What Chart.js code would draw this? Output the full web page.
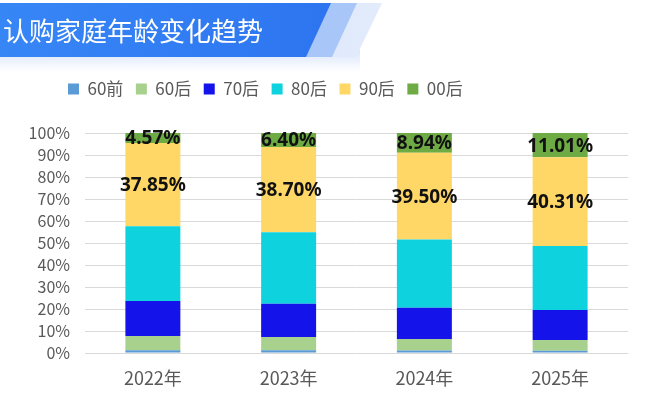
<!DOCTYPE html>
<html>
<head>
<meta charset="utf-8">
<script src="https://cdn.jsdelivr.net/npm/chart.js@4/dist/chart.umd.min.js"></script>
<style>
  html, body { margin: 0; padding: 0; background: #fff; }
  #wrap { position: relative; width: 664px; height: 396px; overflow: hidden; background: #fff; }
  #chart { position: absolute; left: 0; top: 0; }
  .glow { position: absolute; left: 0; top: 50px; width: 360px; height: 22px;
          background: linear-gradient(to bottom, rgba(120,165,240,0.28), rgba(120,165,240,0)); }
  .stripe2 { position: absolute; left: 0; top: 3px; width: 390px; height: 54px;
             background: linear-gradient(to right, #c9dbfa, #e3ecfc);
             clip-path: polygon(330px 0, 382px 0, 356px 54px, 305px 54px); }
  .stripe1 { position: absolute; left: 0; top: 3px; width: 390px; height: 54px;
             background: #a9c6f8;
             clip-path: polygon(330px 0, 357px 0, 332px 54px, 305px 54px); }
  .banner { position: absolute; left: 0; top: 3px; width: 332px; height: 54px;
            background: linear-gradient(to right, #3786f6, #2d75f0);
            clip-path: polygon(0 0, 331px 0, 306px 54px, 0 54px); }
  .title { position: absolute; left: 3px; top: 3px; height: 54px; line-height: 54px;
           color: #fff; font-family: "Noto Sans CJK SC", sans-serif; font-size: 26px;
           white-space: nowrap; }
</style>
</head>
<body>
<div id="wrap">
  <canvas id="chart" width="664" height="396"></canvas>
  <div class="glow"></div>
  <div class="stripe2"></div>
  <div class="stripe1"></div>
  <div class="banner"></div>
  <div class="title">认购家庭年龄变化趋势</div>
</div>
<script>
// ---- data ----
const categories = ['2022年', '2023年', '2024年', '2025年'];
const seriesNames = ['60前', '60后', '70后', '80后', '90后', '00后'];
const pre60  = [1.3, 1.3, 1.1, 1.0];
const post60 = [6.4, 6.0, 5.3, 4.9];
const post70 = [15.9, 15.1, 14.2, 13.6];
const post80 = [33.98, 32.5, 30.96, 29.18];
const post90 = [37.85, 38.70, 39.50, 40.31];
const post00 = [4.57, 6.40, 8.94, 11.01];
const yMax = 100;
const yStep = 10;

const colors = ['#5B9BD5', '#A9D18E', '#1414EA', '#0ED3DF', '#FFD766', '#6FAB45'];
const seriesValues = [pre60, post60, post70, post80, post90, post00];
const labelledSeries = [4, 5];

const tickFont = "'Noto Sans CJK SC', 'Noto Sans', sans-serif";

const legendTweak = {
  id: 'legendTweak',
  beforeInit(chart) {
    const lg = chart.legend;
    if (lg) {
      const fit = lg.fit;
      lg.fit = function () { fit.call(this); this.height = 65; };
    }
  },
  afterLayout(chart) {
    const lg = chart.legend;
    if (lg) { lg.left += 25.5; lg.right += 25.5; }
  }
};

const valueLabels = {
  id: 'valueLabels',
  afterDatasetsDraw(chart) {
    const ctx = chart.ctx;
    ctx.save();
    ctx.font = "bold 19px 'Noto Sans', 'Noto Sans CJK SC', sans-serif";
    ctx.fillStyle = '#111';
    ctx.textAlign = 'center';
    ctx.textBaseline = 'middle';
    labelledSeries.forEach(di => {
      const meta = chart.getDatasetMeta(di);
      meta.data.forEach((bar, i) => {
        const v = chart.data.datasets[di].data[i];
        const y = (bar.y + bar.base) / 2 + 1;
        ctx.fillText(v.toFixed(2) + '%', bar.x, y);
      });
    });
    ctx.restore();
  }
};

new Chart(document.getElementById('chart'), {
  type: 'bar',
  data: {
    labels: categories,
    datasets: seriesNames.map((name, i) => ({
      label: name,
      data: seriesValues[i],
      backgroundColor: colors[i],
      borderWidth: 0,
      categoryPercentage: 1,
      barPercentage: 0.405
    }))
  },
  options: {
    responsive: false,
    animation: false,
    layout: { padding: { top: 68, left: 30, right: 36, bottom: 7 } },
    plugins: {
      legend: {
        position: 'top',
        align: 'start',
        labels: {
          boxWidth: 11,
          boxHeight: 11,
          padding: 12.5,
          color: '#595959',
          font: { family: tickFont, size: 17 }
        }
      },
      tooltip: { enabled: false }
    },
    scales: {
      x: {
        stacked: true,
        afterFit(scale) { scale.height = 36; },
        grid: { display: false, drawTicks: false },
        border: { display: false },
        ticks: { color: '#595959', padding: 14, font: { family: tickFont, size: 18 } }
      },
      y: {
        stacked: true,
        min: 0,
        max: yMax,
        afterFit(scale) { scale.width = 55; },
        grid: { color: '#D9D9D9', lineWidth: 1, drawTicks: false },
        border: { display: false },
        ticks: {
          stepSize: yStep,
          autoSkip: false,
          color: '#595959',
          padding: 15,
          font: { family: tickFont, size: 16 },
          callback: v => v + '%'
        }
      }
    }
  },
  plugins: [legendTweak, valueLabels]
});
</script>
</body>
</html>
